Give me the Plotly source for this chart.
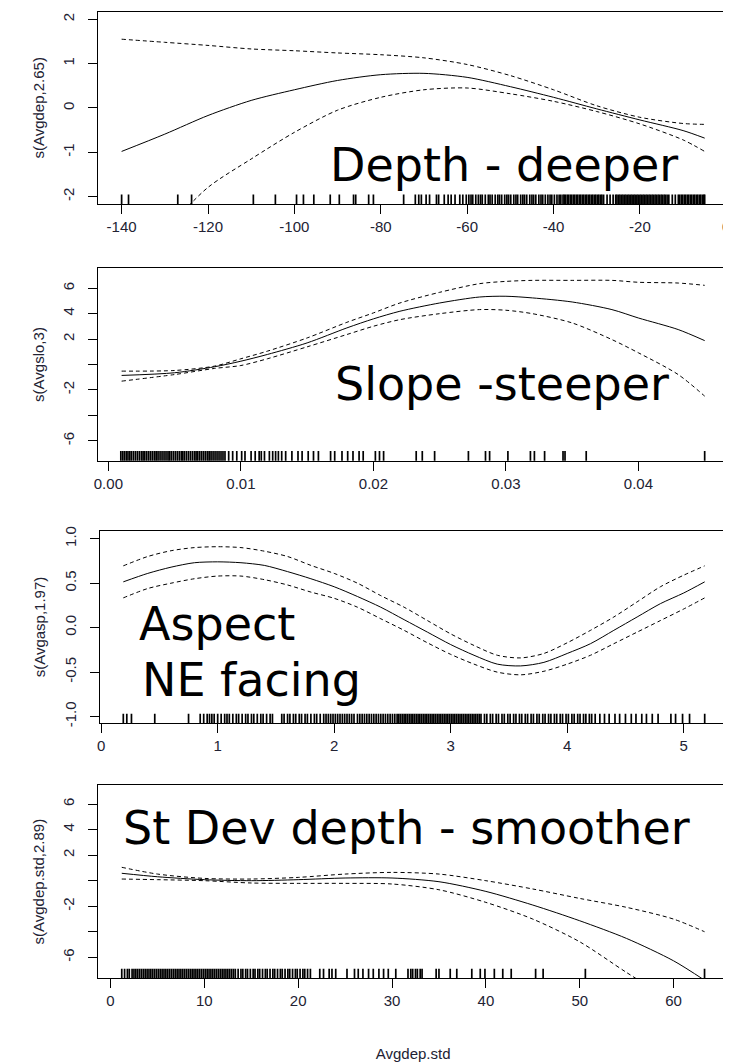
import plotly.graph_objects as go

# Browser body margin offsets the figure by 8px; figure is sized to fill the rest.
OFF = 8
W, H = 731 - OFF, 1063 - OFF

# ---------------- Panel 1: depth ----------------
depth_x = [-140, -130, -120, -110, -100, -90, -80, -70, -60, -50, -40, -30, -20, -10, -5]
depth_fit = [-0.98, -0.59, -0.17, 0.17, 0.41, 0.62, 0.75, 0.78, 0.69, 0.48, 0.24, -0.02, -0.27, -0.51, -0.68]
depth_upper = [1.55, 1.48, 1.41, 1.33, 1.29, 1.24, 1.20, 1.13, 0.98, 0.73, 0.41, 0.05, -0.21, -0.35, -0.37]
depth_lower = [-3.6, -2.75, -1.79, -1.15, -0.55, -0.05, 0.24, 0.41, 0.45, 0.32, 0.15, -0.08, -0.36, -0.72, -0.98]
depth_rug = [
    -140, -138.4, -127, -123.8, -109.5, -104.4, -99.5, -97.9, -95.5, -91.7, -89.6, -86.3, -85.8,
    -82.8, -81.7, -74.7, -72, -71.2, -70.6, -69.5, -68.7, -67.1, -66.6, -65.3, -64.4, -63.7, -62.8,
    -61.7, -61, -60.2, -59.6, -59.1, -58.7, -58.0, -57.4, -56.9, -56.5, -55.8, -55.1, -54.7, -54.2,
    -53.5, -52.9, -52.5, -52.0, -51.3, -50.8, -50.4, -49.9, -49.2, -48.7, -48.3, -47.6, -47.1, -46.7,
    -46.2, -45.5, -45.0, -44.6, -44.1, -43.4, -42.9, -42.5, -41.9, -41.3, -40.8, -40.4, -39.8, -39.2,
    -38.7, -38.3, -37.8, -37.5, -37.2, -36.8, -36.5, -36.1, -35.8, -35.4, -35.1, -34.7, -34.4, -34.0,
    -33.7, -33.3, -33.0, -32.6, -32.3, -31.9, -31.6, -31.2, -30.9, -30.5, -30.2, -29.8, -29.5, -29.1,
    -28.8, -28.4, -27.6, -26.9, -26.2, -25.6, -25.3, -24.9, -24.6, -24.2, -23.9, -23.5, -23.2, -22.8,
    -22.5, -22.1, -21.8, -21.4, -21.1, -20.7, -20.4, -20.0, -19.7, -19.3, -19.0, -18.6, -18.3, -17.9,
    -17.6, -17.2, -16.9, -16.5, -16.2, -15.8, -15.5, -15.1, -14.8, -14.4, -14.1, -13.7, -13.3, -12.5,
    -11.8, -11.1, -10.8, -10.4, -10.1, -9.7, -9.4, -9.0, -8.7, -8.3, -8.0, -7.6, -7.3, -6.9, -6.6,
    -6.2, -5.9, -5.5, -5.2, -5.0]
depth_xticks = [-140, -120, -100, -80, -60, -40, -20, 0]
depth_xlabels = ["-140", "-120", "-100", "-80", "-60", "-40", "-20", "0"]
depth_yticks = [-2, -1, 0, 1, 2]
depth_ylabels = ["-2", "-1", "0", "1", "2"]

# ---------------- Panel 2: slope ----------------
slope_x = [0.001, 0.005, 0.008, 0.010, 0.012, 0.015, 0.018, 0.020, 0.022, 0.025, 0.028, 0.030,
           0.032, 0.035, 0.038, 0.040, 0.043, 0.045]
slope_fit = [-0.86, -0.65, -0.18, 0.26, 0.79, 1.70, 2.88, 3.59, 4.19, 4.84, 5.31, 5.37, 5.24, 4.92,
             4.32, 3.66, 2.75, 1.88]
slope_upper = [-0.52, -0.47, -0.13, 0.45, 1.05, 2.09, 3.32, 4.06, 4.84, 5.68, 6.36, 6.54, 6.62, 6.62,
               6.62, 6.47, 6.41, 6.23]
slope_lower = [-1.31, -0.79, -0.31, -0.08, 0.45, 1.39, 2.36, 3.01, 3.53, 4.0, 4.32, 4.27, 4.0, 3.27,
               1.96, 0.92, -0.79, -2.49]
slope_rug = [
    0.00094, 0.00108, 0.00121, 0.00135, 0.00148, 0.00162, 0.00175, 0.0019, 0.00205, 0.0022, 0.00235,
    0.0025, 0.00262, 0.00275, 0.0029, 0.00305, 0.0032, 0.00335, 0.0035, 0.00362, 0.00375, 0.0039,
    0.00405, 0.0042, 0.00435, 0.0045, 0.00462, 0.00475, 0.0049, 0.00505, 0.0052, 0.00535, 0.0055,
    0.00562, 0.00575, 0.0059, 0.00605, 0.0062, 0.00635, 0.0065, 0.00662, 0.00675, 0.0069, 0.00705,
    0.0072, 0.00735, 0.0075, 0.00762, 0.00775, 0.0079, 0.00805, 0.0082, 0.00835, 0.0085, 0.00865,
    0.0088, 0.00908, 0.00938, 0.00969, 0.01006, 0.01031, 0.01077, 0.01108, 0.01138, 0.01154, 0.01178,
    0.01215, 0.0124, 0.01262, 0.01283, 0.01308, 0.01338, 0.01385, 0.01431, 0.01462, 0.01508, 0.01548,
    0.01585, 0.01677, 0.01708, 0.01763, 0.01806, 0.01846, 0.01892, 0.01923, 0.02015, 0.02046, 0.02077,
    0.02323, 0.02369, 0.02462, 0.02717, 0.02846, 0.02877, 0.03015, 0.03185, 0.03215, 0.03292, 0.03431,
    0.03446, 0.03606, 0.045]
slope_xticks = [0.00, 0.01, 0.02, 0.03, 0.04]
slope_xlabels = ["0.00", "0.01", "0.02", "0.03", "0.04"]
slope_yticks = [-6, -4, -2, 0, 2, 4, 6]
slope_ylabels = ["-6", "", "-2", "", "2", "4", "6"]

# ---------------- Panel 3: aspect ----------------
aspect_x = [0.19, 0.4, 0.6, 0.8, 1.0, 1.2, 1.4, 1.6, 1.8, 2.0, 2.2, 2.4, 2.6, 2.8, 3.0, 3.2, 3.4,
            3.6, 3.8, 4.0, 4.2, 4.4, 4.6, 4.8, 5.0, 5.18]
aspect_fit = [0.515, 0.61, 0.68, 0.73, 0.74, 0.73, 0.70, 0.63, 0.55, 0.46, 0.35, 0.23, 0.09, -0.05,
              -0.19, -0.31, -0.41, -0.43, -0.39, -0.29, -0.18, -0.03, 0.12, 0.27, 0.39, 0.515]
aspect_upper = [0.695, 0.80, 0.865, 0.90, 0.91, 0.90, 0.86, 0.80, 0.70, 0.61, 0.50, 0.36, 0.23, 0.08,
                -0.07, -0.20, -0.31, -0.34, -0.29, -0.17, -0.03, 0.12, 0.29, 0.46, 0.59, 0.695]
aspect_lower = [0.335, 0.44, 0.50, 0.55, 0.58, 0.58, 0.54, 0.48, 0.40, 0.33, 0.23, 0.10, -0.03, -0.17,
                -0.30, -0.41, -0.50, -0.53, -0.49, -0.41, -0.31, -0.18, -0.05, 0.08, 0.21, 0.335]
aspect_rug = [
    0.19, 0.22, 0.26, 0.46, 0.75, 0.85, 0.88, 0.91, 0.93, 0.95, 0.97, 1.0, 1.03, 1.06, 1.08, 1.1, 1.13,
    1.16, 1.18, 1.21, 1.24, 1.26, 1.29, 1.31, 1.34, 1.37, 1.39, 1.42, 1.45, 1.47, 1.55, 1.57, 1.6,
    1.62, 1.65, 1.67, 1.7, 1.72, 1.75, 1.77, 1.8, 1.83, 1.85, 1.88, 1.91, 1.93, 1.95, 1.97, 1.99, 2.01,
    2.03, 2.05, 2.07, 2.09, 2.11, 2.13, 2.15, 2.17, 2.2, 2.22, 2.24, 2.26, 2.28, 2.3, 2.32, 2.34, 2.36,
    2.38, 2.4, 2.42, 2.44, 2.46, 2.48, 2.5, 2.52, 2.54, 2.555, 2.57, 2.585, 2.6, 2.615, 2.63, 2.645,
    2.66, 2.675, 2.69, 2.705, 2.72, 2.735, 2.75, 2.765, 2.78, 2.795, 2.81, 2.825, 2.84, 2.855, 2.87,
    2.885, 2.9, 2.915, 2.93, 2.945, 2.96, 2.975, 2.99, 3.005, 3.02, 3.035, 3.05, 3.065, 3.08, 3.095,
    3.11, 3.125, 3.14, 3.155, 3.17, 3.185, 3.2, 3.215, 3.23, 3.245, 3.26, 3.29, 3.31, 3.34, 3.36, 3.39,
    3.41, 3.44, 3.46, 3.49, 3.51, 3.54, 3.56, 3.59, 3.61, 3.64, 3.66, 3.69, 3.71, 3.74, 3.76, 3.79,
    3.81, 3.84, 3.86, 3.89, 3.91, 3.94, 3.96, 3.99, 4.01, 4.04, 4.06, 4.09, 4.11, 4.14, 4.16, 4.19,
    4.21, 4.24, 4.28, 4.32, 4.36, 4.41, 4.45, 4.5, 4.55, 4.59, 4.64, 4.68, 4.73, 4.78, 4.89, 4.93,
    4.99, 5.05, 5.18]
aspect_xticks = [0, 1, 2, 3, 4, 5]
aspect_xlabels = ["0", "1", "2", "3", "4", "5"]
aspect_yticks = [-1.0, -0.5, 0.0, 0.5, 1.0]
aspect_ylabels = ["-1.0", "-0.5", "0.0", "0.5", "1.0"]

# ---------------- Panel 4: st dev of depth ----------------
stdev_x = [1.2, 5, 10, 15, 20, 25, 30, 35, 40, 45, 50, 55, 60, 63.3]
stdev_fit = [0.58, 0.31, 0.08, 0.0, 0.08, 0.21, 0.21, -0.08, -0.84, -1.91, -3.14, -4.53, -6.28, -7.8]
stdev_upper = [1.05, 0.52, 0.18, 0.13, 0.26, 0.52, 0.65, 0.52, 0.0, -0.65, -1.39, -2.09, -3.01, -4.0]
stdev_lower = [0.13, 0.08, 0.0, -0.18, -0.21, -0.21, -0.26, -0.71, -1.70, -3.01, -4.79, -7.2, -9.5, -11.0]
stdev_rug = [
    1.2, 1.5, 1.8, 2.0, 2.3, 2.5, 2.7, 2.9, 3.1, 3.3, 3.5, 3.7, 3.9, 4.1, 4.3, 4.5, 4.7, 4.9, 5.1,
    5.3, 5.5, 5.7, 5.9, 6.1, 6.3, 6.5, 6.7, 6.9, 7.1, 7.3, 7.5, 7.7, 7.9, 8.1, 8.3, 8.5, 8.7, 8.9, 9.1,
    9.3, 9.5, 9.7, 9.9, 10.1, 10.3, 10.5, 10.7, 10.9, 11.1, 11.3, 11.5, 11.7, 11.9, 12.1, 12.3, 12.5,
    12.7, 12.9, 13.1, 13.3, 13.6, 13.9, 14.1, 14.4, 14.6, 14.9, 15.2, 15.4, 15.7, 15.9, 16.2, 16.5,
    16.7, 17.0, 17.3, 17.5, 17.8, 18.1, 18.3, 18.6, 18.9, 19.1, 19.4, 19.7, 19.9, 20.2, 20.5, 20.7,
    21.0, 21.3, 22.3, 22.7, 23.3, 23.6, 24.0, 25.2, 26.0, 26.4, 26.9, 27.5, 28.0, 28.6, 29.1, 29.6,
    30.4, 31.7, 32.0, 32.2, 32.5, 32.7, 33.0, 33.2, 34.7, 35.0, 36.2, 36.9, 38.5, 39.4, 39.9, 40.9,
    41.8, 42.7, 45.3, 46.1, 50.6, 63.3]
stdev_xticks = [0, 10, 20, 30, 40, 50, 60]
stdev_xlabels = ["0", "10", "20", "30", "40", "50", "60"]
stdev_yticks = [-6, -4, -2, 0, 2, 4, 6]
stdev_ylabels = ["-6", "", "-2", "", "2", "4", "6"]

# ---------------- layout geometry (screen pixels) ----------------
panels = [
    dict(x=depth_x, fit=depth_fit, up=depth_upper, lo=depth_lower, rug=depth_rug,
         xr=[-145.4, 0.4], yr=[-2.165, 2.17], xt=depth_xticks, xl=depth_xlabels,
         yt=depth_yticks, yl=depth_ylabels, ytitle="s(Avgdep,2.65)",
         top=11.7, bottom=204, left=98.3, right=728),
    dict(x=slope_x, fit=slope_fit, up=slope_upper, lo=slope_lower, rug=slope_rug,
         xr=[-0.00076, 0.04676], yr=[-7.57, 7.57], xt=slope_xticks, xl=slope_xlabels,
         yt=slope_yticks, yl=slope_ylabels, ytitle="s(Avgslo,3)",
         top=268.3, bottom=460.7, left=98.3, right=728),
    dict(x=aspect_x, fit=aspect_fit, up=aspect_upper, lo=aspect_lower, rug=aspect_rug,
         xr=[-0.01, 5.38], yr=[-1.075, 1.09], xt=aspect_xticks, xl=aspect_xlabels,
         yt=aspect_yticks, yl=aspect_ylabels, ytitle="s(Avgasp,1.97)",
         top=530.7, bottom=723.3, left=100, right=728),
    dict(x=stdev_x, fit=stdev_fit, up=stdev_upper, lo=stdev_lower, rug=stdev_rug,
         xr=[-1.3, 65.8], yr=[-7.65, 7.5], xt=stdev_xticks, xl=stdev_xlabels,
         yt=stdev_yticks, yl=stdev_ylabels, ytitle="s(Avgdep.std,2.89)",
         top=785, bottom=978.3, left=98.3, right=728),
]


def px_x(v):
    return (v - OFF) / W


def px_y(v):
    return 1 - (v - OFF) / H


TXT = "#222233"
TICKFONT = dict(family="Liberation Sans", size=15, color=TXT)
RUG_LEN = 8

fig = go.Figure()
layout = dict(width=W, height=H, margin=dict(l=0, r=0, t=0, b=0, autoexpand=False),
              paper_bgcolor="white", plot_bgcolor="white", showlegend=False,
              template="none")

for i, p in enumerate(panels):
    s = "" if i == 0 else str(i + 1)
    xa, ya = "x" + s, "y" + s
    line_solid = dict(color="black", width=1, shape="spline", smoothing=0.8)
    line_dash = dict(color="black", width=1, dash="4px,3px", shape="spline", smoothing=0.8)
    fig.add_trace(go.Scatter(x=p["x"], y=p["fit"], mode="lines", line=line_solid,
                             xaxis=xa, yaxis=ya, hoverinfo="skip"))
    fig.add_trace(go.Scatter(x=p["x"], y=p["up"], mode="lines", line=line_dash,
                             xaxis=xa, yaxis=ya, hoverinfo="skip"))
    fig.add_trace(go.Scatter(x=p["x"], y=p["lo"], mode="lines", line=line_dash,
                             xaxis=xa, yaxis=ya, hoverinfo="skip"))
    ph = p["bottom"] - p["top"]
    rug_y = p["yr"][0] + (RUG_LEN / 2) / ph * (p["yr"][1] - p["yr"][0])
    fig.add_trace(go.Scatter(x=p["rug"], y=[rug_y] * len(p["rug"]), mode="markers",
                             marker=dict(symbol="line-ns", size=RUG_LEN,
                                         line=dict(width=1.7, color="black")),
                             xaxis=xa, yaxis=ya, hoverinfo="skip"))

    xaxis = dict(domain=[px_x(p["left"]), px_x(p["right"])], range=p["xr"], anchor=ya,
                 tickvals=p["xt"], ticktext=p["xl"], ticks="outside", ticklen=9,
                 tickcolor="black", showline=True, mirror=True, linecolor="black",
                 linewidth=1, showgrid=False, zeroline=False, tickfont=TICKFONT,
                 ticklabelstandoff=0, automargin=False)
    if i == 3:
        xaxis["title"] = dict(text="Avgdep.std", font=dict(family="Liberation Sans", size=15, color=TXT),
                              standoff=40)
    yaxis = dict(domain=[px_y(p["bottom"]), px_y(p["top"])], range=p["yr"], anchor=xa,
                 tickvals=p["yt"], ticktext=p["yl"], ticks="outside", ticklen=9,
                 tickcolor="black", showline=True, mirror=True, linecolor="black",
                 linewidth=1, showgrid=False, zeroline=False, tickfont=TICKFONT,
                 tickangle=-90, ticklabelstandoff=8, automargin=False,
                 title=dict(text=p["ytitle"], font=dict(family="Liberation Sans", size=15, color=TXT),
                            standoff=12))
    layout["xaxis" + s] = xaxis
    layout["yaxis" + s] = yaxis

ANN_FONT = dict(family="DejaVu Sans", size=46, color="black")
labels = [
    ("Depth - deeper", 328, 165),
    ("Slope -steeper", 333, 384),
    ("Aspect", 137, 624),
    ("NE facing", 140, 680),
    ("St Dev depth - smoother", 121, 828),
]
layout["annotations"] = [
    dict(text=t, x=px_x(x), y=px_y(y), xref="paper", yref="paper", xanchor="left",
         yanchor="middle", showarrow=False, font=ANN_FONT)
    for t, x, y in labels
]

fig.update_layout(**layout)
fig.write_html("out.html")
